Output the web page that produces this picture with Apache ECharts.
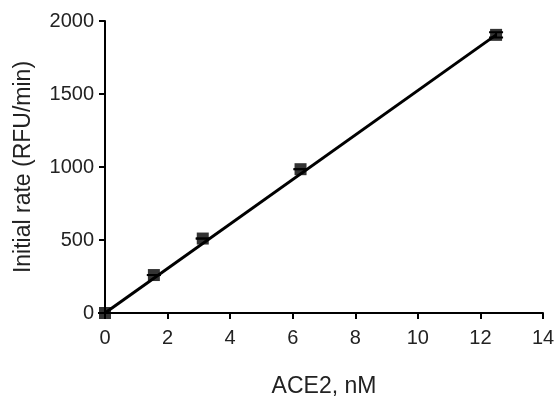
<!DOCTYPE html>
<html><head><meta charset="utf-8">
<script src="https://cdn.jsdelivr.net/npm/echarts@6/dist/echarts.min.js"></script>
<style>html,body{margin:0;padding:0;background:#fff}#c{width:558px;height:398px}</style>
</head><body><div id="c"></div>
<script>
const xValues = [0, 1.5625, 3.125, 6.25, 12.5];
const yValues = [0, 260, 510, 985, 1905];
const errValues = [0, 0, 0, 0, 18];
const fitX = [0, 12.5];
const fitY = [0, 1905];
const xTitle = 'ACE2, nM';
const yTitle = 'Initial rate (RFU/min)';

const pts = xValues.map((x, i) => [x, yValues[i]]);
const errs = xValues.map((x, i) => [x, yValues[i] - errValues[i], yValues[i] + errValues[i]]);
const fit = fitX.map((x, i) => [x, fitY[i]]);
const font = 'Liberation Sans, Arial, sans-serif';
const chart = echarts.init(document.getElementById('c'));
chart.setOption({
  animation: false,
  grid: {left: 105, right: 15, top: 21, bottom: 85, outerBoundsMode: 'none', containLabel: false},
  xAxis: {
    type: 'value', min: 0, max: 14, interval: 2,
    name: xTitle, nameLocation: 'middle', nameGap: 62,
    nameTextStyle: {fontFamily: font, fontSize: 23, color: '#222'},
    axisLine: {lineStyle: {color: '#000', width: 2}},
    axisTick: {show: true, length: 6, lineStyle: {color: '#000', width: 2}},
    axisLabel: {fontFamily: font, fontSize: 20, color: '#222', margin: 15, formatter: v => String(v)},
    splitLine: {show: false}
  },
  yAxis: {
    type: 'value', min: 0, max: 2000, interval: 500,
    name: yTitle, nameLocation: 'middle', nameGap: 70,
    nameTextStyle: {fontFamily: font, fontSize: 23, color: '#222'},
    axisLine: {show: true, lineStyle: {color: '#000', width: 2}},
    axisTick: {show: true, length: 6, lineStyle: {color: '#000', width: 2}},
    axisLabel: {fontFamily: font, fontSize: 20, color: '#222', margin: 11, formatter: v => String(v)},
    splitLine: {show: false}
  },
  series: [
    {type: 'line', data: fit, symbol: 'none', lineStyle: {color: '#000', width: 3}, z: 3},
    {type: 'custom', data: errs, z: 4,
      renderItem: function (params, api) {
        const x = api.value(0), lo = api.value(1), hi = api.value(2);
        const pLo = api.coord([x, lo]), pHi = api.coord([x, hi]);
        const w = 7;
        const st = {stroke: '#000', lineWidth: 2};
        return {type: 'group', children: [
          {type: 'line', shape: {x1: pLo[0], y1: pLo[1], x2: pHi[0], y2: pHi[1]}, style: st},
          {type: 'line', shape: {x1: pLo[0] - w, y1: pLo[1], x2: pLo[0] + w, y2: pLo[1]}, style: st},
          {type: 'line', shape: {x1: pHi[0] - w, y1: pHi[1], x2: pHi[0] + w, y2: pHi[1]}, style: st}
        ]};
      }
    },
    {type: 'scatter', data: pts, symbol: 'rect', symbolSize: 12, itemStyle: {color: '#000'}, z: 5}
  ]
});
</script></body></html>
